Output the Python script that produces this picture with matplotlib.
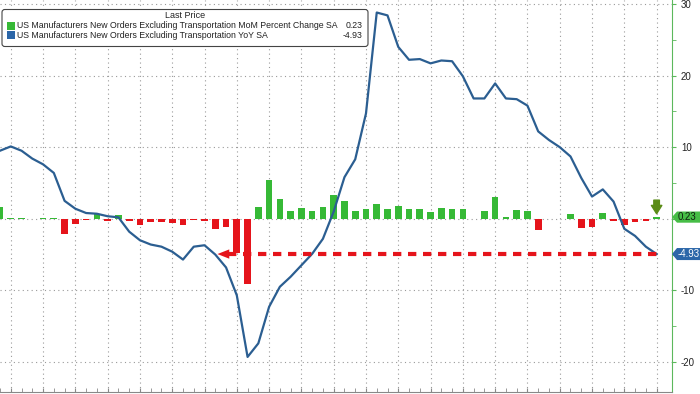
import numpy as np
import matplotlib.pyplot as plt
from matplotlib.patches import FancyBboxPatch, Polygon, Rectangle
from matplotlib.transforms import blended_transform_factory

plt.rcParams['font.family'] = ['Liberation Sans', 'DejaVu Sans']

# MoM % change (bars), one value per month
mom = [1.6, 0.15, 0.15, -0.1, 0.1, 0.1, -2.1, -0.7, -0.2, 0.7,
       -0.25, 0.55, -0.3, -0.9, -0.4, -0.4, -0.6, -0.9, -0.2, -0.3,
       -1.5, -1.2, -4.8, -9.1, 1.7, 5.4, 2.7, 1.15, 1.5, 1.15,
       1.6, 3.25, 2.5, 1.07, 1.3, 2.1, 1.3, 1.77, 1.3, 1.3,
       0.93, 1.5, 1.4, 1.3, -0.05, 1.1, 3.1, 0.28, 1.2, 1.07,
       -1.63, -0.05, 0.03, 0.6, -1.26, -1.16, 0.84, -0.35, -0.93, -0.4,
       -0.35, 0.23]
# YoY % (line)
yoy = [9.5, 10.1, 9.5, 8.4, 7.6, 6.4, 2.5, 1.4, 0.8, 0.7,
       0.35, 0.2, -1.8, -3.0, -3.6, -3.9, -4.6, -5.7, -3.9, -3.7,
       -5.0, -6.8, -10.7, -19.3, -17.4, -12.3, -9.5, -8.1, -6.5, -4.9,
       -2.8, 1.0, 5.8, 8.3, 14.7, 28.8, 28.4, 24.0, 22.2, 22.3,
       21.7, 22.1, 22.0, 19.9, 16.8, 16.8, 18.9, 16.8, 16.7, 15.8,
       12.2, 11.0, 10.0, 8.7, 5.7, 3.1, 4.1, 2.4, -1.4, -2.4,
       -3.9, -4.93]
months = np.arange(len(mom))
last_mom = 0.23
last_yoy = -4.93
legend_names = ['US Manufacturers New Orders Excluding Transportation MoM Percent Change SA',
                'US Manufacturers New Orders Excluding Transportation YoY SA']
yticks = [-20, -10, 0, 10, 20, 30]
ytick_labels = ['-20', '-10', '', '10', '20', '30']

GREEN = '#36b936'
RED = '#e5141b'
BLUE = '#2b5e91'
AXGREEN = '#5cb85c'

fig = plt.figure(figsize=(7, 3.94), dpi=100)
ax = fig.add_axes([0, 0.005, 0.96, 0.995])

colors = [GREEN if v >= 0 else RED for v in mom]
ax.bar(months, mom, width=0.62, color=colors, zorder=2)
ax.plot(months, yoy, color=BLUE, lw=1.6, zorder=3)

ax.set_xlim(0.15, 62.43)
ax.set_ylim(-24.2, 30.55)

# grid / ticks
ax.set_xticks(months[1::3])
ax.set_xticks(months, minor=True)
ax.tick_params(axis='x', which='both', direction='in', length=3, color='#888888',
               labelbottom=False)
ax.yaxis.tick_right()
ax.set_yticks(yticks, labels=ytick_labels)
ax.set_yticks([-15, -5, 5, 15, 25], minor=True)
ax.tick_params(axis='y', which='both', direction='out', length=3, color=AXGREEN,
               labelsize=7, pad=3.5, labelcolor='#222222')
ax.grid(which='major', color='#9a9a9a', linestyle=(0, (1, 3)), lw=0.8, zorder=0)
ax.set_axisbelow(True)
for s in ['left', 'top']:
    ax.spines[s].set_visible(False)
ax.spines['right'].set_color(AXGREEN)
ax.spines['bottom'].set_color('#888888')

# red dashed arrow at the last YoY level
ax.plot([21.2, 61.2], [last_yoy, last_yoy], color=RED, lw=3, dashes=(2, 1.6), zorder=5)
ax.add_patch(Polygon([[20.2, last_yoy], [21.3, last_yoy + 0.65], [21.3, last_yoy - 0.65]],
                     closed=True, fc=RED, ec='none', zorder=5))

# green arrow at the last bar
ax.annotate('', xy=(61, 0.7), xytext=(61, 2.6),
            arrowprops=dict(arrowstyle='simple,head_length=0.6,head_width=0.75,tail_width=0.4',
                            color='#5b8c17', shrinkA=0, shrinkB=0, mutation_scale=10),
            zorder=6)

# value tags on the right axis
trans = blended_transform_factory(ax.transAxes, ax.transData)
px = 1 / 672


def tag(y, text, bg, fg, h):
    poly = Polygon([[1.0, y], [1.0 + 5 * px, y + h], [1.0 + 30 * px, y + h],
                    [1.0 + 30 * px, y - h], [1.0 + 5 * px, y - h]],
                   closed=True, transform=trans, clip_on=False, fc=bg, ec='none', zorder=10)
    ax.add_patch(poly)
    ax.text(1.0 + 6 * px, y, text, transform=trans, ha='left', va='center', color=fg,
            fontsize=7, clip_on=False, zorder=11)


tag(last_mom, '0.23', '#46bd46', '#102010', 0.78)
tag(last_yoy, '-4.93', '#2b66a8', 'white', 0.84)

# legend box
W, H = 700, 394
box = FancyBboxPatch((2 / W, 1 - 46.5 / H), 366 / W, 37 / H,
                     boxstyle='round,pad=0,rounding_size=0.004', mutation_aspect=W / H,
                     transform=fig.transFigure, fc='white', ec='#444444', lw=0.8, zorder=20)
fig.add_artist(box)
fig.text(185 / W, 1 - 16 / H, 'Last Price', ha='center', va='center', fontsize=6.5,
         color='#222222', zorder=21)
rows = [(25.7, GREEN, legend_names[0], '0.23'), (35.4, '#2b66a8', legend_names[1], '-4.93')]
for yy, c, name, val in rows:
    fig.add_artist(Rectangle((6.5 / W, 1 - (yy + 4) / H), 8 / W, 8 / H,
                             transform=fig.transFigure, fc=c, ec='none', zorder=21))
    fig.text(17.3 / W, 1 - yy / H, name, va='center', fontsize=6.3, color='#222222', zorder=21)
    fig.text(362.7 / W, 1 - yy / H, val, ha='right', va='center', fontsize=6.3,
             color='#222222', zorder=21)

fig.savefig('out.png', dpi=100)
